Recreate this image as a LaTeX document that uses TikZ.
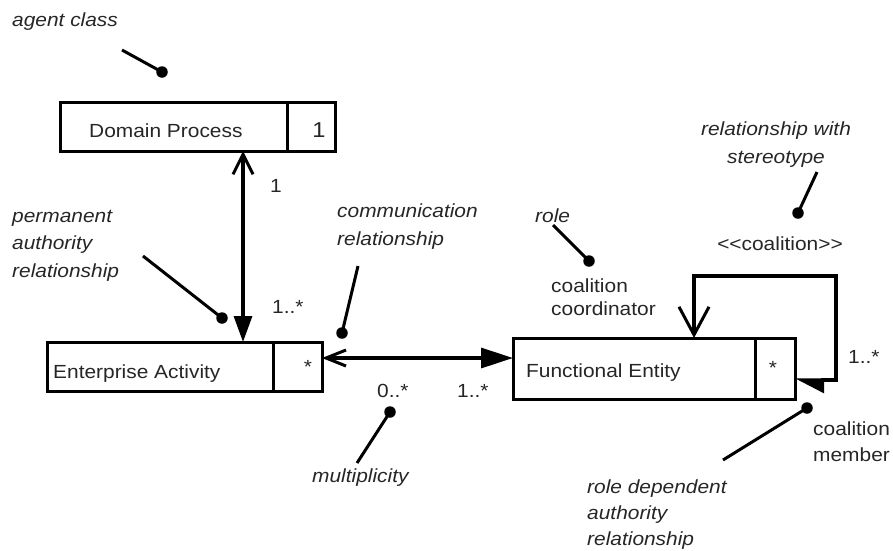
\documentclass[tikz,border=0pt]{standalone}
\usepackage{fontspec}
\setmainfont{Liberation Sans}[FakeStretch=1.1]
\usetikzlibrary{arrows.meta}
\begin{document}
\begin{tikzpicture}[x=1pt,y=-1pt,
  font=\fontsize{19pt}{26pt}\selectfont,
  txt/.style={inner sep=0pt, text=black!85, anchor=base west},
  note/.style={txt, font=\fontsize{19pt}{27.5pt}\selectfont\itshape, align=left},
  classbox/.style={draw, line width=3pt, inner sep=0pt, outer sep=0pt},
  dot/.style={circle, fill, inner sep=0pt, minimum size=11.5pt},
  pointer/.style={line width=3pt},
  assoc/.style={line width=3.2pt},
]
\useasboundingbox (0,0) rectangle (893,550);

% class boxes: name compartment + multiplicity compartment
\node[classbox, minimum width=227pt, minimum height=49pt] (dp) at (173.5,126.5) {};
\node[classbox, minimum width=48pt, minimum height=49pt] (dpm) at (311,126.5) {};
\node[classbox, minimum width=226pt, minimum height=49pt] (ea) at (160,366.5) {};
\node[classbox, minimum width=49pt, minimum height=49pt] (eam) at (297.5,366.5) {};
\node[classbox, minimum width=242pt, minimum height=61pt] (fe) at (634,368.5) {};
\node[classbox, minimum width=40pt, minimum height=61pt] (fem) at (775,368.5) {};

% class names and multiplicities (multi-line nodes sit on their last baseline)
\node[txt] (dpt) at (89,137) {Domain Process};
\node[txt, anchor=base, font=\fontsize{21.5pt}{26pt}\selectfont] (dpmt) at (319,137) {1};
\node[txt] (eat) at (53,378) {Enterprise Activity};
\node[txt, anchor=base] (eamt) at (308,373) {*};
\node[txt] (fet) at (526,377) {Functional Entity};
\node[txt, anchor=base] (femt) at (773,374) {*};

% associations
\coordinate (dpa) at ([xshift=183pt]dp.south west);
\draw[assoc, {Straight Barb[length=20pt,width=20pt,line width=3pt]}-{Triangle[length=26pt,width=18pt]}]
  (dpa) -- (dpa |- ea.north);
\coordinate (eaf) at ([yshift=8.5pt]eam.east);
\draw[assoc, {Straight Barb[length=20pt,width=16pt,line width=3pt]}-{Triangle[length=32pt,width=20pt]}]
  (eaf) -- (eaf -| fe.west);
\coordinate (lp) at ([xshift=181pt]fe.north west);
\coordinate (loopNE) at (836,276);
\coordinate (loopSE) at (836,380);
\draw[assoc, {Straight Barb[length=28pt,width=30pt,line width=3pt]}-{Triangle[harpoon,length=26pt,width=26pt]}]
  (lp) |- (loopNE) -- (loopSE) -- (loopSE -| fem.east);

% association labels
\node[txt, anchor=base] (m1) at (276,192) {1};
\node[txt] (m2) at (272,313) {1..*};
\node[txt] (m3) at (377,397) {0..*};
\node[txt] (m4) at (457,397) {1..*};
\node[txt] (m5) at (848,363) {1..*};
\node[txt, anchor=base] (stereo) at (780,250) {<{}<coalition>{}>};
\node[txt, align=left, font=\fontsize{19pt}{23pt}\selectfont] (coord) at (551,315) {coalition\\coordinator};
\node[txt, align=left, font=\fontsize{19pt}{26pt}\selectfont] (member) at (813,461) {coalition\\member};

% annotations
\node[note] (n1) at (12,26) {agent class};
\node[note] (n2) at (12,277) {permanent\\authority\\relationship};
\node[note] (n3) at (337,245) {communication\\relationship};
\node[note] (n4) at (535,222) {role};
\node[note, align=center, anchor=base] (n5) at (776,163) {relationship with\\stereotype};
\node[note] (n6) at (312,482) {multiplicity};
\node[note, font=\fontsize{19pt}{26pt}\selectfont\itshape] (n7) at (587,545) {role dependent\\authority\\relationship};

% annotation pointers
\node[dot] (d1) at (162,72) {};
\node[dot] (d2) at (222,318) {};
\node[dot] (d3) at (342,333) {};
\node[dot] (d4) at (589,261) {};
\node[dot] (d5) at (798,213) {};
\node[dot] (d6) at (390,412) {};
\node[dot] (d7) at (807,408) {};
\coordinate (p1) at (122,50);
\coordinate (p2) at (143,256);
\coordinate (p3) at (358,266);
\coordinate (p4) at (553,225);
\coordinate (p5) at (817,172);
\coordinate (p6) at (357,463);
\coordinate (p7) at (723,460);
\draw[pointer] (p1) -- (d1.center);
\draw[pointer] (p2) -- (d2.center);
\draw[pointer] (p3) -- (d3.center);
\draw[pointer] (p4) -- (d4.center);
\draw[pointer] (p5) -- (d5.center);
\draw[pointer] (p6) -- (d6.center);
\draw[pointer] (p7) -- (d7.center);
\end{tikzpicture}
\end{document}
